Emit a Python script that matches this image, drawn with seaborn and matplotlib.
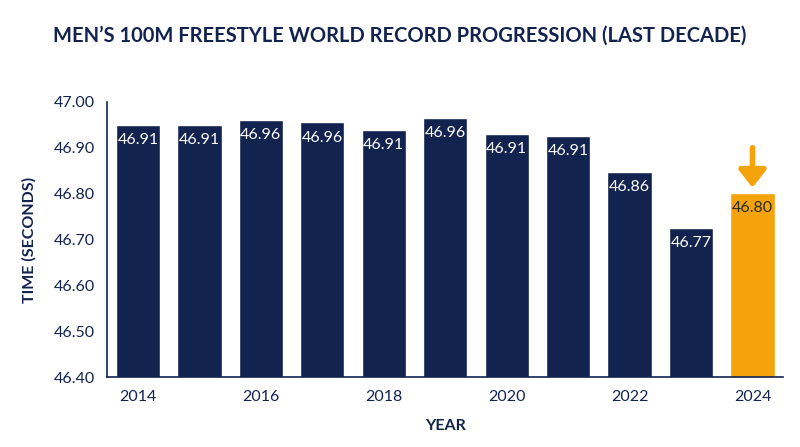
import matplotlib
matplotlib.use('Agg')
import matplotlib.pyplot as plt
import seaborn as sns
import pandas as pd

# data
years = ['2014', '2015', '2016', '2017', '2018', '2019',
         '2020', '2021', '2022', '2023', '2024']
bar_heights = [46.949, 46.950, 46.961, 46.955, 46.938, 46.965,
               46.930, 46.925, 46.848, 46.725, 46.801]
bar_labels = ['46.91', '46.91', '46.96', '46.96', '46.91', '46.96',
              '46.91', '46.91', '46.86', '46.77', '46.80']
y_ticks = [46.40, 46.50, 46.60, 46.70, 46.80, 46.90, 47.00]

navy = '#13234f'
orange = '#f4a30b'
colors = [navy] * 10 + [orange]

df = pd.DataFrame({'Year': years, 'Time': bar_heights})

sns.set_theme(style='white')
plt.rcParams['font.family'] = ['Lato', 'DejaVu Sans']

fig, ax = plt.subplots(figsize=(8, 4.47), dpi=100)
fig.subplots_adjust(left=0.134, right=0.979, top=0.7725, bottom=0.1555)

sns.barplot(data=df, x='Year', y='Time', hue='Year', palette=colors,
            legend=False, width=0.72, saturation=1, ax=ax)

ax.set_ylim(46.40, 47.00)
ax.set_xlim(-0.5, len(years) - 0.5)
ax.set_yticks(y_ticks)
ax.set_yticklabels(['%.2f' % t for t in y_ticks], fontsize=11.5, color=navy)
ax.set_xticks(range(0, len(years), 2))
ax.set_xticklabels(years[::2], fontsize=11.5, color=navy)
ax.tick_params(axis='y', length=0, pad=9)
ax.tick_params(axis='x', length=0, pad=9)

# value labels inside the bar tops
for i, (h, lab) in enumerate(zip(bar_heights, bar_labels)):
    c = 'white' if i < len(years) - 1 else '#2b2b2b'
    ax.text(i, h - 0.033, lab, ha='center', va='center',
            fontsize=11.5, color=c)

# arrow pointing at the latest record
ax.annotate('', xy=(len(years) - 1, 46.813), xytext=(len(years) - 1, 46.90),
            arrowprops=dict(arrowstyle='-|>,head_width=0.55,head_length=0.7',
                            lw=4, color=orange, mutation_scale=15,
                            shrinkA=0, shrinkB=0))

for side in ['top', 'right']:
    ax.spines[side].set_visible(False)
for side in ['left', 'bottom']:
    ax.spines[side].set_color(navy)
    ax.spines[side].set_linewidth(1.2)

ax.set_xlabel('YEAR', fontsize=11.5, fontweight='bold', color=navy, labelpad=11)
ax.set_ylabel('TIME (SECONDS)', fontsize=11.5, fontweight='bold', color=navy,
              labelpad=12)
fig.suptitle('MEN’S 100M FREESTYLE WORLD RECORD PROGRESSION (LAST DECADE)',
             x=0.5, y=0.921, va='center', fontsize=14.5, fontweight='bold',
             color=navy)

fig.savefig('out.png', dpi=100)
